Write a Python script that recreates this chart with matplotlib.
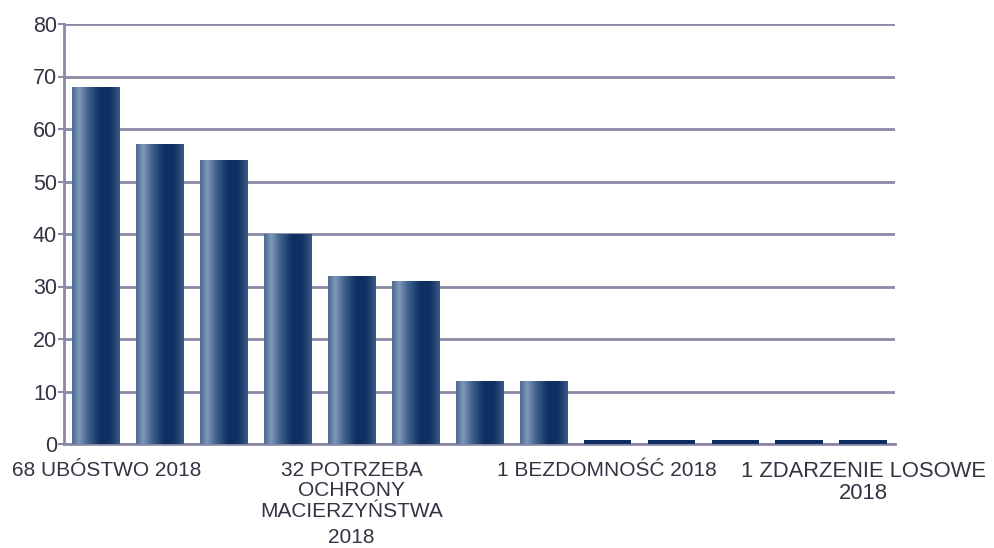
import numpy as np
import matplotlib
matplotlib.use("Agg")
import matplotlib.pyplot as plt
from matplotlib.colors import LinearSegmentedColormap
import matplotlib.transforms as mtransforms

plt.rcParams['font.family'] = ['Liberation Sans', 'DejaVu Sans']

values = [68, 57, 54, 40, 32, 31, 12, 12, 1, 1, 1, 1, 1]
label_positions = [0, 4, 8, 12]
label_texts = ["68 UBÓSTWO 2018",
               "32 POTRZEBA\nOCHRONY\nMACIERZYŃSTWA",
               "1 BEZDOMNOŚĆ 2018",
               "1 ZDARZENIE LOSOWE\n2018"]
extra_line = {4: "2018"}
yticks = [0, 10, 20, 30, 40, 50, 60, 70, 80]

W, H = 994, 548
fig = plt.figure(figsize=(W/100, H/100), dpi=100)
ax = fig.add_axes([64/W, (H-444)/H, 831/W, 420/H])

grid_c = '#8b8aa6'
text_c = '#333344'
fs = 15

cmap = LinearSegmentedColormap.from_list('bar', [
    (0.0, '#4a6a93'), (0.15, '#7e98b8'), (0.35, '#3c5f8c'),
    (0.6, '#0b2d5f'), (0.8, '#0f3264'), (1.0, '#3b5a85')])
grad = np.linspace(0, 1, 256).reshape(1, -1)

n = len(values)
bw = 0.74
ax.set_xlim(-0.5, n - 0.5)
ax.set_ylim(0, 80)
for i, v in enumerate(values):
    x0 = i - bw/2
    if v > 2:
        ax.imshow(grad, cmap=cmap, extent=(x0, x0 + bw, 0, v), aspect='auto',
                  zorder=3, interpolation='bilinear')
    else:
        ax.bar(i, v*0.8, width=bw, color='#0b2d5f', zorder=3, align='center')

ax.set_yticks(yticks)
ax.yaxis.grid(True, color=grid_c, linewidth=2.0, zorder=1)
ax.set_axisbelow(True)
for s in ['top', 'right']:
    ax.spines[s].set_visible(False)
for s in ['left', 'bottom']:
    ax.spines[s].set_color(grid_c)
    ax.spines[s].set_linewidth(2.0)
ax.tick_params(axis='y', colors=grid_c, length=4, width=1.5, pad=1,
               labelsize=15.5, labelcolor=text_c)
ax.set_xticks(label_positions)
ax.set_xticklabels(label_texts, fontsize=fs, color=text_c, linespacing=1.1,
                   va='top')
ax.tick_params(axis='x', length=0, pad=12)
lbls = ax.get_xticklabels()
lbls[0].set_transform(lbls[0].get_transform() +
                      mtransforms.ScaledTranslation(11/100, 0, fig.dpi_scale_trans))
lbls[3].set_fontsize(15.8)
for i, t in extra_line.items():
    trans = mtransforms.blended_transform_factory(ax.transData, fig.transFigure)
    ax.text(i, 1 - 543/H, t, transform=trans, ha='center', va='baseline',
            fontsize=fs, color=text_c)

fig.savefig('out.png', dpi=100)
